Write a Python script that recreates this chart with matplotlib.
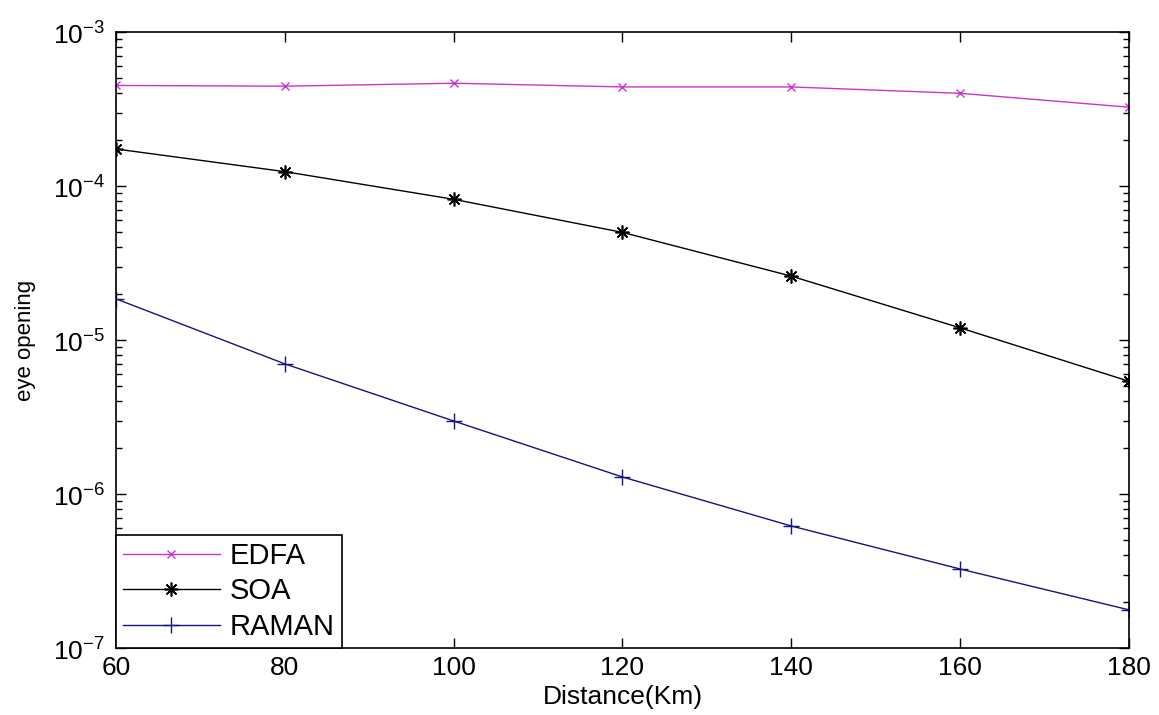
import matplotlib
matplotlib.use('Agg')
import matplotlib.pyplot as plt
import numpy as np

plt.rcParams['font.family'] = ['Liberation Sans', 'DejaVu Sans']
plt.rcParams['mathtext.fontset'] = 'custom'
plt.rcParams['mathtext.rm'] = 'Liberation Sans'

distance = [60, 80, 100, 120, 140, 160, 180]
edfa = [4.5e-4, 4.45e-4, 4.65e-4, 4.4e-4, 4.4e-4, 4.0e-4, 3.25e-4]
soa = [1.74e-4, 1.24e-4, 8.2e-5, 5.0e-5, 2.6e-5, 1.2e-5, 5.4e-6]
raman = [1.85e-5, 7.0e-6, 2.98e-6, 1.29e-6, 6.2e-7, 3.26e-7, 1.77e-7]
ytick_vals = [1e-7, 1e-6, 1e-5, 1e-4, 1e-3]
ytick_labels = ['$10^{-7}$', '$10^{-6}$', '$10^{-5}$', '$10^{-4}$', '$10^{-3}$']

fig = plt.figure(figsize=(11.59, 7.15), dpi=100)
ax = fig.add_axes([0.1001, 0.0937, 0.974 - 0.1001, 0.9552 - 0.0937])

ax.plot(distance, edfa, color='#cc33cc', marker='x', ms=6, mew=1, lw=1, label='EDFA')
ax.plot(distance, soa, color='black', marker=(8, 2, 0), ms=10, mew=1.2, lw=1, label='SOA')
ax.plot(distance, raman, color='#141480', marker='+', ms=12, mew=1, lw=1, label='RAMAN')

ax.set_yscale('log')
ax.set_xlim(60, 180)
ax.set_ylim(1e-7, 1e-3)
ax.set_xticks([60, 80, 100, 120, 140, 160, 180])
ax.set_yticks(ytick_vals, ytick_labels)
ax.tick_params(which='both', direction='in', top=True, right=True, labelsize=19, width=1)
ax.tick_params(which='major', length=7, pad=6)
ax.tick_params(axis='y', which='major', pad=8)
ax.tick_params(which='minor', length=4.5)
for s in ax.spines.values():
    s.set_linewidth(1.2)

ax.set_xlabel('Distance(Km)', fontsize=19, labelpad=3)
ax.set_ylabel('eye opening', fontsize=16, labelpad=12)

leg = ax.legend(loc='lower left', fontsize=21, handlelength=3.3, borderaxespad=0,
                fancybox=False, framealpha=1, edgecolor='black', labelspacing=0.25,
                borderpad=0.25, handletextpad=0.35)
leg.get_frame().set_linewidth(1.2)

fig.savefig('out.png', dpi=100)
